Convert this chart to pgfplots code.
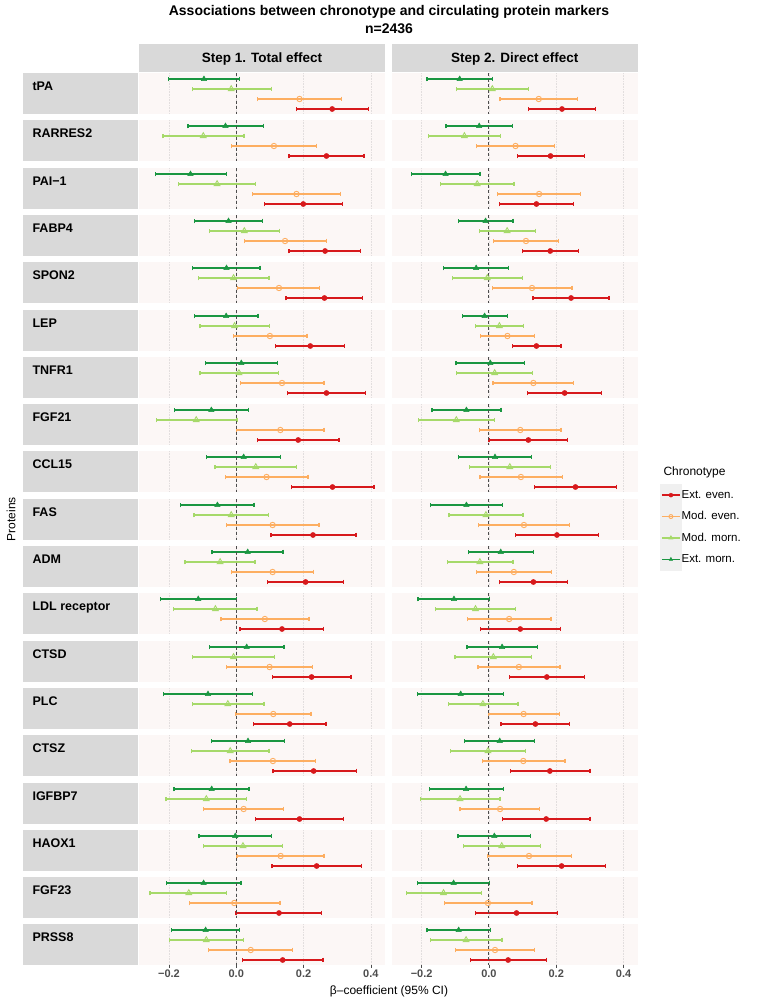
\documentclass[border=0pt]{standalone}
\usepackage{pgfplots}
\pgfplotsset{compat=1.18}
\usepackage{pgfplotstable}
\usepackage{fontspec}
\setmainfont{Liberation Sans}
\definecolor{cEE}{HTML}{D7191C}
\definecolor{cME}{HTML}{FDAE61}
\definecolor{cMM}{HTML}{A6D96A}
\definecolor{cEM}{HTML}{1A9641}
\definecolor{panelbg}{HTML}{FCF7F6}
\definecolor{stripbg}{HTML}{D9D9D9}
\definecolor{gridc}{HTML}{E2DEDE}
\definecolor{tickc}{HTML}{4D4D4D}

% columns: a = Step 1 (total effect), b = Step 2 (direct effect); l/h = 95% CI
\pgfplotstableread{
a al ah b bl bh
0.285 0.179 0.392 0.217 0.117 0.316
0.268 0.157 0.380 0.183 0.084 0.284
0.199 0.083 0.316 0.141 0.032 0.251
0.264 0.157 0.370 0.182 0.099 0.266
0.262 0.148 0.375 0.244 0.131 0.357
0.220 0.117 0.321 0.141 0.069 0.214
0.268 0.153 0.384 0.225 0.115 0.334
0.184 0.064 0.305 0.117 0.000 0.233
0.286 0.165 0.409 0.257 0.135 0.380
0.228 0.103 0.356 0.202 0.079 0.326
0.206 0.092 0.318 0.132 0.031 0.234
0.136 0.011 0.260 0.093 -0.026 0.212
0.224 0.107 0.341 0.172 0.060 0.284
0.159 0.051 0.267 0.138 0.036 0.240
0.230 0.109 0.357 0.181 0.063 0.300
0.188 0.057 0.319 0.170 0.040 0.300
0.239 0.106 0.373 0.216 0.085 0.347
0.127 -0.001 0.254 0.082 -0.040 0.204
0.138 0.019 0.258 0.057 -0.054 0.170
}\tEE
\pgfplotstableread{
a al ah b bl bh
0.188 0.064 0.312 0.148 0.033 0.263
0.112 -0.015 0.239 0.079 -0.036 0.194
0.179 0.049 0.310 0.149 0.025 0.273
0.145 0.024 0.269 0.110 0.013 0.207
0.127 0.004 0.248 0.128 0.010 0.247
0.100 -0.009 0.210 0.055 -0.025 0.135
0.136 0.012 0.261 0.132 0.012 0.252
0.131 0.000 0.261 0.093 -0.028 0.214
0.090 -0.032 0.213 0.095 -0.027 0.218
0.108 -0.029 0.246 0.104 -0.031 0.240
0.108 -0.015 0.230 0.074 -0.036 0.185
0.085 -0.045 0.216 0.060 -0.064 0.184
0.099 -0.029 0.227 0.089 -0.033 0.211
0.110 -0.002 0.222 0.103 -0.002 0.210
0.109 -0.019 0.236 0.102 -0.020 0.226
0.022 -0.098 0.141 0.033 -0.086 0.151
0.132 0.002 0.261 0.119 -0.005 0.245
-0.006 -0.139 0.130 -0.003 -0.133 0.128
0.043 -0.082 0.167 0.018 -0.100 0.136
}\tME
\pgfplotstableread{
a al ah b bl bh
-0.015 -0.131 0.105 0.010 -0.097 0.117
-0.098 -0.218 0.023 -0.073 -0.179 0.034
-0.057 -0.171 0.057 -0.035 -0.145 0.074
0.024 -0.080 0.128 0.054 -0.029 0.138
-0.008 -0.112 0.097 -0.005 -0.108 0.100
-0.005 -0.108 0.098 0.031 -0.041 0.102
0.008 -0.108 0.125 0.017 -0.097 0.130
-0.119 -0.238 0.002 -0.097 -0.209 0.017
0.058 -0.063 0.179 0.062 -0.058 0.183
-0.015 -0.126 0.096 -0.009 -0.119 0.101
-0.048 -0.152 0.056 -0.027 -0.124 0.071
-0.062 -0.187 0.062 -0.040 -0.158 0.078
-0.008 -0.129 0.113 0.013 -0.101 0.127
-0.025 -0.131 0.082 -0.018 -0.120 0.086
-0.018 -0.133 0.097 -0.003 -0.114 0.108
-0.089 -0.209 0.030 -0.086 -0.204 0.033
0.020 -0.098 0.138 0.038 -0.076 0.154
-0.141 -0.256 -0.028 -0.135 -0.246 -0.023
-0.089 -0.199 0.022 -0.068 -0.174 0.039
}\tMM
\pgfplotstableread{
a al ah b bl bh
-0.096 -0.201 0.010 -0.087 -0.184 0.011
-0.032 -0.143 0.081 -0.029 -0.128 0.070
-0.136 -0.241 -0.028 -0.129 -0.230 -0.027
-0.023 -0.124 0.079 -0.010 -0.091 0.071
-0.029 -0.129 0.071 -0.038 -0.135 0.059
-0.030 -0.125 0.065 -0.013 -0.079 0.056
0.015 -0.092 0.122 0.004 -0.098 0.105
-0.074 -0.184 0.036 -0.067 -0.169 0.036
0.022 -0.088 0.132 0.018 -0.091 0.126
-0.056 -0.165 0.053 -0.067 -0.174 0.040
0.034 -0.072 0.139 0.035 -0.061 0.132
-0.113 -0.226 0.000 -0.104 -0.211 0.002
0.031 -0.080 0.142 0.039 -0.065 0.145
-0.084 -0.217 0.049 -0.084 -0.212 0.043
0.035 -0.073 0.143 0.032 -0.073 0.136
-0.073 -0.185 0.038 -0.068 -0.177 0.043
-0.003 -0.111 0.105 0.016 -0.092 0.123
-0.097 -0.208 0.014 -0.105 -0.213 0.002
-0.091 -0.193 0.010 -0.090 -0.184 0.005
}\tEM

\pgfplotsset{
  panel/.style={
    anchor=north west, width=246pt, height=41pt, scale only axis,
    xmin=-0.289, xmax=0.442, ymin=0.4, ymax=4.5, y dir=reverse,
    axis line style={draw=none}, ytick=\empty,
    xtick={-0.2,0,0.2,0.4}, xmajorgrids,
    major grid style={gridc, line width=0.6pt, densely dotted},
    axis background/.style={fill=panelbg},
    legend image code/.code={%
      \fill[black!6] (0pt,-10.5pt) rectangle (21pt,10.5pt);
      \draw[line width=1.5pt] (1.5pt,0pt) -- (19.5pt,0pt);
      \draw[mark size=2pt] plot coordinates {(10.5pt,0pt)};},
    legend style={at={(axis description cs:1.0907,1.36)}, anchor=north west,
      draw=none, fill=none, inner sep=0pt, row sep=0pt,
      font=\fontsize{11.5}{13}\selectfont,
      nodes={inner sep=0pt, anchor=west},
      /tikz/every even column/.append style={column sep=8pt}},
  },
  otherrow/.style={xticklabels={}, major tick length=0pt},
  bottomrow/.style={xticklabels={−0.2,0.0,0.2,0.4}, xtick pos=left,
    tick align=outside, major tick length=2.7pt,
    major tick style={tickc, line width=0.5pt},
    xticklabel style={font=\bfseries\fontsize{11}{13}\selectfont, text=tickc, inner sep=1.5pt}},
  ser/.style={only marks, color=#1,
    error bars/x dir=both, error bars/x explicit,
    error bars/error mark=|,
    error bars/error bar style={line width=1.5pt, color=#1},
    error bars/error mark options={line width=1.3pt, mark size=2.3pt, color=#1}},
}
\newcommand\series[4]{%
  \addplot[#4] table[x=#2, y expr=#3,
    x error plus expr=\thisrow{#2h}-\thisrow{#2},
    x error minus expr=\thisrow{#2}-\thisrow{#2l},
    restrict expr to domain={\coordindex}{\i:\i}] {#1};}

\begin{document}
\begin{tikzpicture}
\useasboundingbox (0pt,0pt) rectangle (767pt,-1001pt);
% title
\node[anchor=base, font=\bfseries\fontsize{14}{16}\selectfont] at (389pt,-16pt) {Associations between chronotype and circulating protein markers};
\node[anchor=base, font=\bfseries\fontsize{14}{16}\selectfont] at (389pt,-33pt) {n=2436};
% facet strips
\fill[stripbg] (139pt,-43.5pt) rectangle (385pt,-71.5pt);
\fill[stripbg] (391.7pt,-43.5pt) rectangle (638pt,-71.5pt);
\node[anchor=base, font=\bfseries\fontsize{13.5}{15}\selectfont] at (262pt,-62.5pt) {Step 1. Total effect};
\node[anchor=base, font=\bfseries\fontsize{13.5}{15}\selectfont] at (514.85pt,-62.5pt) {Step 2. Direct effect};
% axis titles
\node[rotate=90, anchor=center, font=\fontsize{12}{14}\selectfont] at (11pt,-519pt) {Proteins};
\node[anchor=base, font=\fontsize{12}{14}\selectfont] at (389pt,-994pt) {β–coefficient (95\% CI)};
\node[anchor=base west, font=\fontsize{12}{14}\selectfont] at (660pt,-475.5pt) {Chronotype};

\foreach \name [count=\i from 0] in {tPA,RARRES2,PAI−1,FABP4,SPON2,LEP,TNFR1,FGF21,CCL15,FAS,ADM,LDL receptor,CTSD,PLC,CTSZ,IGFBP7,HAOX1,FGF23,PRSS8} {
  \pgfmathsetmacro\ty{73+round(\i*47.3)}
  \pgfmathsetmacro\tb{\ty+41}
  \pgfmathsetmacro\tl{\ty+17.7}
  \fill[stripbg] (23pt,-\ty pt) rectangle (138.3pt,-\tb pt);
  \node[anchor=base west, font=\bfseries\fontsize{12.5}{14}\selectfont] at (29pt,-\tl pt) {\name};
  \ifnum\i=18 \pgfplotsset{curr/.style={bottomrow}}\else\pgfplotsset{curr/.style={otherrow}}\fi
  \foreach \xl/\p in {139/a,391.7/b} {
    \begin{axis}[panel, curr, at={(\xl pt,-\ty pt)}]
      \series{\tEE}{\p}{4}{ser=cEE, mark=*, mark size=2.6pt}
      \series{\tME}{\p}{3}{ser=cME, mark=o, mark size=2.7pt, mark options={line width=0.9pt}}
      \series{\tMM}{\p}{2}{ser=cMM, mark=triangle, mark size=3.3pt, mark options={line width=0.9pt}}
      \series{\tEM}{\p}{1}{ser=cEM, mark=triangle*, mark size=3.1pt}
      \addplot[color=black!70, line width=1pt, dash pattern=on 3pt off 2.5pt, no marks] coordinates {(0,0.4) (0,4.5)};
      \ifnum\i=9 \if b\p \legend{Ext. even.,Mod. even.,Mod. morn.,Ext. morn.}\fi\fi
    \end{axis}
  }
}
\end{tikzpicture}
\end{document}
